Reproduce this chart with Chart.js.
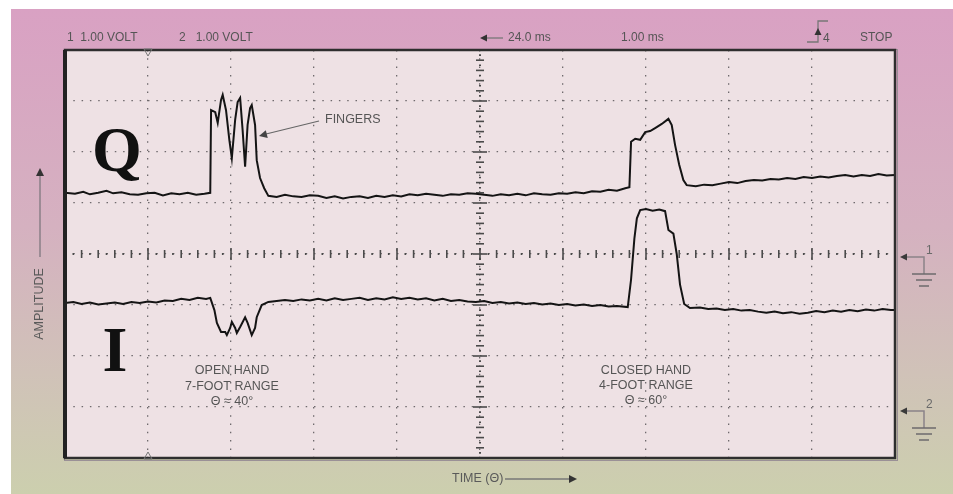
<!DOCTYPE html>
<html>
<head>
<meta charset="utf-8">
<script src="https://cdn.jsdelivr.net/npm/chart.js@4/dist/chart.umd.min.js"></script>
<style>
    html, body { margin: 0; padding: 0; background: #fff; }
    #wrap { width: 953px; height: 494px; }
</style>
</head>
<body>
<div id="wrap"><canvas id="scope" width="953" height="494"></canvas></div>
<script>
// time in ms (1.00 ms / div), amplitude in volts (1.00 VOLT / div)
var qTime = [0.00, 0.12, 0.22, 0.30, 0.40, 0.50, 0.58, 0.68, 0.78, 0.88, 0.98, 1.08, 1.18, 1.28, 1.38, 1.48, 1.58, 1.68, 1.75,
    1.76, 1.81, 1.84, 1.88, 1.90, 1.94, 1.98, 2.01, 2.05, 2.08, 2.11, 2.14, 2.17, 2.20, 2.23, 2.25, 2.29, 2.31, 2.35, 2.40, 2.45,
    2.55, 2.65, 2.75, 2.85, 2.95, 3.05, 3.15, 3.25, 3.35, 3.45, 3.55, 3.65, 3.75, 3.85, 3.95, 4.05, 4.15, 4.25, 4.35, 4.45,
    4.55, 4.65, 4.75, 4.85, 4.95, 5.05, 5.15, 5.25, 5.35, 5.45, 5.55, 5.65, 5.75, 5.85, 5.95, 6.05, 6.15, 6.25, 6.35, 6.45,
    6.55, 6.65, 6.75, 6.80, 6.82, 6.87, 6.93, 6.99, 7.05, 7.11, 7.19, 7.27, 7.31, 7.35, 7.40, 7.45, 7.49,
    7.60, 7.70, 7.80, 7.90, 8.00, 8.10, 8.20, 8.30, 8.40, 8.50, 8.60, 8.70, 8.80, 8.90, 9.00, 9.10, 9.20, 9.30, 9.40,
    9.50, 9.60, 9.70, 9.80, 9.90, 10.00];
var qVolts = [1.20, 1.18, 1.22, 1.17, 1.20, 1.24, 1.19, 1.21, 1.17, 1.16, 1.19, 1.20, 1.15, 1.19, 1.17, 1.20, 1.16, 1.18, 1.20,
    2.82, 2.78, 2.57, 3.02, 3.12, 2.82, 2.24, 1.88, 2.63, 2.98, 3.06, 2.43, 1.71, 2.53, 2.86, 2.92, 2.53, 1.84, 1.49, 1.29, 1.14,
    1.12, 1.16, 1.13, 1.12, 1.15, 1.14, 1.10, 1.13, 1.09, 1.12, 1.13, 1.10, 1.14, 1.12, 1.15, 1.13, 1.17, 1.15, 1.18, 1.16,
    1.14, 1.17, 1.16, 1.19, 1.18, 1.16, 1.14, 1.17, 1.15, 1.18, 1.15, 1.19, 1.17, 1.16, 1.19, 1.18, 1.21, 1.19, 1.23, 1.22,
    1.26, 1.24, 1.29, 1.31, 2.20, 2.26, 2.24, 2.39, 2.41, 2.47, 2.55, 2.65, 2.53, 2.14, 1.75, 1.45, 1.35,
    1.33, 1.36, 1.35, 1.38, 1.41, 1.39, 1.43, 1.45, 1.44, 1.47, 1.46, 1.49, 1.47, 1.51, 1.49, 1.52, 1.50, 1.53, 1.55,
    1.52, 1.55, 1.53, 1.57, 1.54, 1.55];

var iTime = [0.00, 0.10, 0.20, 0.30, 0.40, 0.50, 0.60, 0.70, 0.80, 0.90, 1.00, 1.10, 1.20, 1.30, 1.40, 1.50, 1.60, 1.70, 1.75,
    1.80, 1.83, 1.88, 1.93, 1.95, 1.99, 2.01, 2.05, 2.07, 2.11, 2.17, 2.20, 2.25, 2.29, 2.31, 2.37, 2.45,
    2.55, 2.65, 2.75, 2.85, 2.95, 3.05, 3.15, 3.25, 3.35, 3.45, 3.55, 3.65, 3.75, 3.85, 3.95, 4.05, 4.15, 4.25, 4.35, 4.45,
    4.55, 4.65, 4.75, 4.85, 4.95, 5.05, 5.15, 5.25, 5.35, 5.45, 5.55, 5.65, 5.75, 5.85, 5.95, 6.05, 6.15, 6.25, 6.35, 6.45,
    6.55, 6.65, 6.78, 6.82, 6.86, 6.89, 6.93, 7.00, 7.08, 7.16, 7.23, 7.27, 7.33, 7.37, 7.41, 7.46, 7.53,
    7.65, 7.75, 7.85, 7.95, 8.05, 8.15, 8.25, 8.35, 8.45, 8.55, 8.65, 8.75, 8.85, 8.95, 9.05, 9.15, 9.25, 9.35, 9.45,
    9.55, 9.65, 9.75, 9.85, 9.95, 10.00];
var iVolts = [-0.96, -0.94, -0.98, -0.95, -0.99, -0.97, -0.95, -0.98, -0.94, -0.96, -0.93, -0.95, -0.91, -0.92, -0.88, -0.90, -0.86, -0.88, -0.86,
    -1.10, -1.35, -1.53, -1.53, -1.59, -1.45, -1.33, -1.45, -1.55, -1.43, -1.24, -1.35, -1.59, -1.45, -1.24, -1.00, -0.94,
    -0.92, -0.90, -0.92, -0.89, -0.91, -0.88, -0.91, -0.87, -0.90, -0.88, -0.86, -0.90, -0.87, -0.89, -0.85, -0.88, -0.86, -0.89, -0.87, -0.91,
    -0.88, -0.92, -0.90, -0.93, -0.94, -0.92, -0.96, -0.94, -0.97, -0.95, -0.98, -0.96, -0.99, -0.97, -1.00, -0.98, -1.01, -0.99, -1.02, -1.00,
    -1.03, -1.02, -1.04, -0.50, 0.30, 0.70, 0.86, 0.88, 0.85, 0.87, 0.84, 0.47, 0.40, 0.00, -0.60, -0.98, -1.06,
    -1.05, -1.08, -1.07, -1.10, -1.08, -1.11, -1.10, -1.13, -1.15, -1.13, -1.16, -1.14, -1.17, -1.15, -1.12, -1.14, -1.11, -1.13, -1.10,
    -1.12, -1.09, -1.11, -1.08, -1.10, -1.10];

var headerLabels = ['1  1.00 VOLT', '2   1.00 VOLT', '24.0 ms', '1.00 ms', '4', 'STOP'];
var openHandNote = ['OPEN HAND', '7-FOOT RANGE', 'Θ ≈ 40°'];
var closedHandNote = ['CLOSED HAND', '4-FOOT RANGE', 'Θ ≈ 60°'];

function toPoints(xs, ys) {
    return xs.map(function (x, i) { return {x: x, y: ys[i]}; });
}

var SANS = '"Liberation Sans", Arial, sans-serif';
var INK = '#555';

function arrowHead(ctx, x, y, angle, size) {
    ctx.save();
    ctx.translate(x, y);
    ctx.rotate(angle);
    ctx.beginPath();
    ctx.moveTo(0, 0);
    ctx.lineTo(-size, -size * 0.5);
    ctx.lineTo(-size, size * 0.5);
    ctx.closePath();
    ctx.fill();
    ctx.restore();
}

function ground(ctx, label, y) {
    ctx.strokeStyle = '#8a8388';
    ctx.fillStyle = '#3a3a3a';
    ctx.lineWidth = 1.5;
    ctx.beginPath();
    ctx.moveTo(904, y);
    ctx.lineTo(924, y);
    ctx.lineTo(924, y + 17);
    ctx.stroke();
    arrowHead(ctx, 900, y, Math.PI, 7);
    ctx.strokeStyle = '#6d6a6c';
    [[12, 0], [8, 6], [5, 12]].forEach(function (g) {
        ctx.beginPath();
        ctx.moveTo(924 - g[0], y + 17 + g[1]);
        ctx.lineTo(924 + g[0], y + 17 + g[1]);
        ctx.stroke();
    });
    ctx.fillStyle = '#6a6a6a';
    ctx.font = '12px ' + SANS;
    ctx.textAlign = 'left';
    ctx.fillText(label, 926, y - 6);
}

var scopeDecor = {
    id: 'scopeDecor',
    beforeDraw: function (chart) {
        var ctx = chart.ctx, a = chart.chartArea;
        ctx.save();
        ctx.fillStyle = '#fff';
        ctx.fillRect(0, 0, chart.width, chart.height);
        var g = ctx.createLinearGradient(0, 9, 0, chart.height);
        g.addColorStop(0, '#d9a1c3');
        g.addColorStop(0.45, '#d5b1c0');
        g.addColorStop(0.75, '#d0c2b8');
        g.addColorStop(1, '#cccfae');
        ctx.fillStyle = g;
        ctx.fillRect(11, 9, chart.width - 11, chart.height - 9);
        ctx.fillStyle = '#eee1e4';
        ctx.fillRect(a.left, a.top, a.right - a.left, a.bottom - a.top);
        ctx.restore();
    },
    beforeDatasetsDraw: function (chart) {
        var ctx = chart.ctx, xs = chart.scales.x, ys = chart.scales.y;
        var cx = xs.getPixelForValue(5), cy = ys.getPixelForValue(0);
        ctx.save();
        ctx.strokeStyle = '#4a4a4a';
        ctx.lineWidth = 1.6;
        var k, p, h;
        for (k = 1; k < 100; k++) {
            p = xs.getPixelForValue(k / 10);
            h = k % 10 === 0 ? 6 : (k % 2 === 0 ? 4 : 1);
            ctx.beginPath();
            ctx.moveTo(p, cy - h);
            ctx.lineTo(p, cy + h);
            ctx.stroke();
        }
        for (k = -39; k < 40; k++) {
            p = ys.getPixelForValue(k / 10);
            h = k % 10 === 0 ? 7 : (k % 2 === 0 ? 4 : 1);
            ctx.beginPath();
            ctx.moveTo(cx - h, p);
            ctx.lineTo(cx + h, p);
            ctx.stroke();
        }
        ctx.restore();
    },
    afterDraw: function (chart) {
        var ctx = chart.ctx, a = chart.chartArea, xs = chart.scales.x;
        ctx.save();
        // frame
        ctx.strokeStyle = '#9a9096';
        ctx.lineWidth = 1;
        ctx.strokeRect(a.left - 0.5, a.top - 0.5, a.right - a.left + 3, a.bottom - a.top + 3);
        ctx.strokeStyle = '#2e2e2e';
        ctx.lineWidth = 2.5;
        ctx.strokeRect(a.left, a.top, a.right - a.left, a.bottom - a.top);
        ctx.fillStyle = '#222';
        ctx.fillRect(a.left - 2, a.top, 4, a.bottom - a.top);

        // trigger position markers
        var tx = xs.getPixelForValue(1);
        ctx.strokeStyle = '#777';
        ctx.lineWidth = 1;
        ctx.beginPath();
        ctx.moveTo(tx - 4, a.top - 1); ctx.lineTo(tx + 4, a.top - 1); ctx.lineTo(tx, a.top + 6); ctx.closePath();
        ctx.stroke();
        ctx.beginPath();
        ctx.moveTo(tx - 4, a.bottom + 1); ctx.lineTo(tx + 4, a.bottom + 1); ctx.lineTo(tx, a.bottom - 6); ctx.closePath();
        ctx.stroke();

        // header
        ctx.fillStyle = '#555';
        ctx.font = '12px ' + SANS;
        ctx.textBaseline = 'middle';
        ctx.textAlign = 'left';
        ctx.fillText(headerLabels[0], 67, 38);
        ctx.fillText(headerLabels[1], 179, 38);
        ctx.fillText(headerLabels[2], 508, 38);
        ctx.fillText(headerLabels[3], 621, 38);
        ctx.fillText(headerLabels[4], 823, 39);
        ctx.fillText(headerLabels[5], 860, 38);
        ctx.strokeStyle = '#777';
        ctx.lineWidth = 1.3;
        ctx.beginPath(); ctx.moveTo(486, 38); ctx.lineTo(503, 38); ctx.stroke();
        ctx.fillStyle = '#333';
        arrowHead(ctx, 480, 38, Math.PI, 7);
        ctx.beginPath();
        ctx.moveTo(807, 42); ctx.lineTo(818, 42); ctx.lineTo(818, 21); ctx.lineTo(828, 21);
        ctx.stroke();
        arrowHead(ctx, 818, 28, -Math.PI / 2, 7);

        // Q / I
        ctx.fillStyle = '#111';
        ctx.textAlign = 'center';
        ctx.textBaseline = 'alphabetic';
        ctx.font = 'bold 64px "Liberation Serif", "Times New Roman", serif';
        ctx.fillText('Q', 117, 171);
        ctx.fillText('I', 115, 371);

        // notes
        ctx.fillStyle = INK;
        ctx.font = '12.5px ' + SANS;
        ctx.textBaseline = 'middle';
        openHandNote.forEach(function (t, i) { ctx.fillText(t, 232, 371 + i * 15.5); });
        closedHandNote.forEach(function (t, i) { ctx.fillText(t, 646, 371 + i * 15); });
        ctx.textAlign = 'left';
        ctx.fillText('FINGERS', 325, 120);
        ctx.strokeStyle = '#666';
        ctx.lineWidth = 1.2;
        ctx.beginPath(); ctx.moveTo(319, 121); ctx.lineTo(266, 134); ctx.stroke();
        ctx.fillStyle = '#444';
        arrowHead(ctx, 259, 136, Math.atan2(136 - 121, 259 - 319), 8);

        // axis titles
        ctx.fillStyle = '#5a5a5a';
        ctx.textAlign = 'center';
        ctx.save();
        ctx.translate(40, 304);
        ctx.rotate(-Math.PI / 2);
        ctx.fillText('AMPLITUDE', 0, 0);
        ctx.restore();
        ctx.strokeStyle = '#8a7f87';
        ctx.lineWidth = 1.5;
        ctx.beginPath(); ctx.moveTo(40, 257); ctx.lineTo(40, 176); ctx.stroke();
        ctx.fillStyle = '#333';
        arrowHead(ctx, 40, 168, -Math.PI / 2, 8);

        ctx.fillStyle = '#5a5a5a';
        ctx.textAlign = 'left';
        ctx.fillText('TIME (Θ)', 452, 479);
        ctx.strokeStyle = '#777';
        ctx.beginPath(); ctx.moveTo(505, 479); ctx.lineTo(570, 479); ctx.stroke();
        ctx.fillStyle = '#333';
        arrowHead(ctx, 577, 479, 0, 8);

        ground(ctx, '1', 257);
        ground(ctx, '2', 411);
        ctx.restore();
    }
};

var traceStyle = {
    borderColor: '#141414',
    borderWidth: 2,
    pointRadius: 0,
    tension: 0,
    fill: false
};

new Chart(document.getElementById('scope').getContext('2d'), {
    type: 'line',
    data: {
        datasets: [
            Object.assign({label: 'Q', data: toPoints(qTime, qVolts)}, traceStyle),
            Object.assign({label: 'I', data: toPoints(iTime, iVolts)}, traceStyle)
        ]
    },
    options: {
        responsive: false,
        animation: false,
        layout: {padding: {left: 65, top: 50, right: 58, bottom: 36}},
        plugins: {legend: {display: false}, tooltip: {enabled: false}},
        scales: {
            x: {
                type: 'linear', min: 0, max: 10,
                ticks: {display: false, stepSize: 1},
                grid: {color: '#6f6a6d', lineWidth: 1.3, drawTicks: false},
                border: {display: false, dash: [1.5, 6.8]}
            },
            y: {
                type: 'linear', min: -4, max: 4,
                ticks: {display: false, stepSize: 1},
                grid: {color: '#6f6a6d', lineWidth: 1.3, drawTicks: false},
                border: {display: false, dash: [1.5, 6.8]}
            }
        }
    },
    plugins: [scopeDecor]
});
</script>
</body>
</html>
